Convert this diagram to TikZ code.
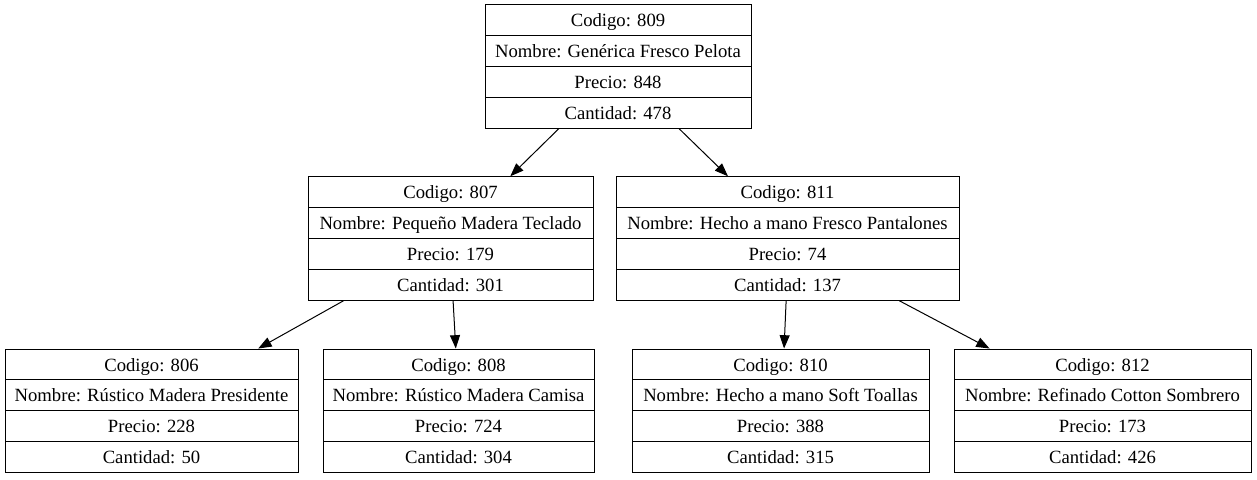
\documentclass[tikz,border=0pt]{standalone}
\usepackage{fontspec}
\setmainfont{Liberation Serif}
\usepackage {tikz}
\usetikzlibrary {shapes.multipart}
\usetikzlibrary{arrows.meta,calc}
\newcommand{\fila}{\rule[-6.25pt]{0pt}{22.4pt}}
\newcommand{\registro}[4]{\fila #1\nodepart{two}\fila #2\nodepart{three}\fila #3\nodepart{four}\fila #4}

\begin{document}
\begin{tikzpicture}[x=0.75pt,y=-0.75pt,
	registro/.style={draw,rectangle split,rectangle split parts=4,inner xsep=0pt,inner ysep=0pt,line width=0.75pt,font=\fontsize{14pt}{16pt}\selectfont},
	flecha/.style={-{Triangle[length=10pt,width=7.5pt]},line width=0.75pt}]
	\useasboundingbox (0,0) rectangle (1257,479);
	\path (618,66.5) node[registro,minimum width=199.5pt] (n809) {\registro{Codigo: 809}{Nombre: Genérica Fresco Pelota}{Precio: 848}{Cantidad: 478}}
	(450.5,238.5) node[registro,minimum width=213.75pt] (n807) {\registro{Codigo: 807}{Nombre: Pequeño Madera Teclado}{Precio: 179}{Cantidad: 301}}
	(787.5,238.5) node[registro,minimum width=257.25pt] (n811) {\registro{Codigo: 811}{Nombre: Hecho a mano Fresco Pantalones}{Precio: 74}{Cantidad: 137}}
	(151.5,410.75) node[registro,minimum width=219.75pt] (n806) {\registro{Codigo: 806}{Nombre: Rústico Madera Presidente}{Precio: 228}{Cantidad: 50}}
	(458.5,410.75) node[registro,minimum width=203.25pt] (n808) {\registro{Codigo: 808}{Nombre: Rústico Madera Camisa}{Precio: 724}{Cantidad: 304}}
	(780.5,410.75) node[registro,minimum width=222.75pt] (n810) {\registro{Codigo: 810}{Nombre: Hecho a mano Soft Toallas}{Precio: 388}{Cantidad: 315}}
	(1102.5,410.75) node[registro,minimum width=222.75pt] (n812) {\registro{Codigo: 812}{Nombre: Refinado Cotton Sombrero}{Precio: 173}{Cantidad: 426}};
	% aristas del arbol
	\draw[flecha] ($(n809.south west)!.278!(n809.south east)$) -- ($(n807.north west)!.709!(n807.north east)$);
	\draw[flecha] ($(n809.south west)!.729!(n809.south east)$) -- ($(n811.north west)!.327!(n811.north east)$);
	\draw[flecha] ($(n807.south west)!.126!(n807.south east)$) -- ($(n806.north west)!.863!(n806.north east)$);
	\draw[flecha] ($(n807.south west)!.509!(n807.south east)$) -- ($(n808.north west)!.49!(n808.north east)$);
	\draw[flecha] ($(n811.south west)!.496!(n811.south east)$) -- ($(n810.north west)!.512!(n810.north east)$);
	\draw[flecha] ($(n811.south west)!.825!(n811.south east)$) -- ($(n812.north west)!.121!(n812.north east)$);
\end{tikzpicture}
\end{document}
